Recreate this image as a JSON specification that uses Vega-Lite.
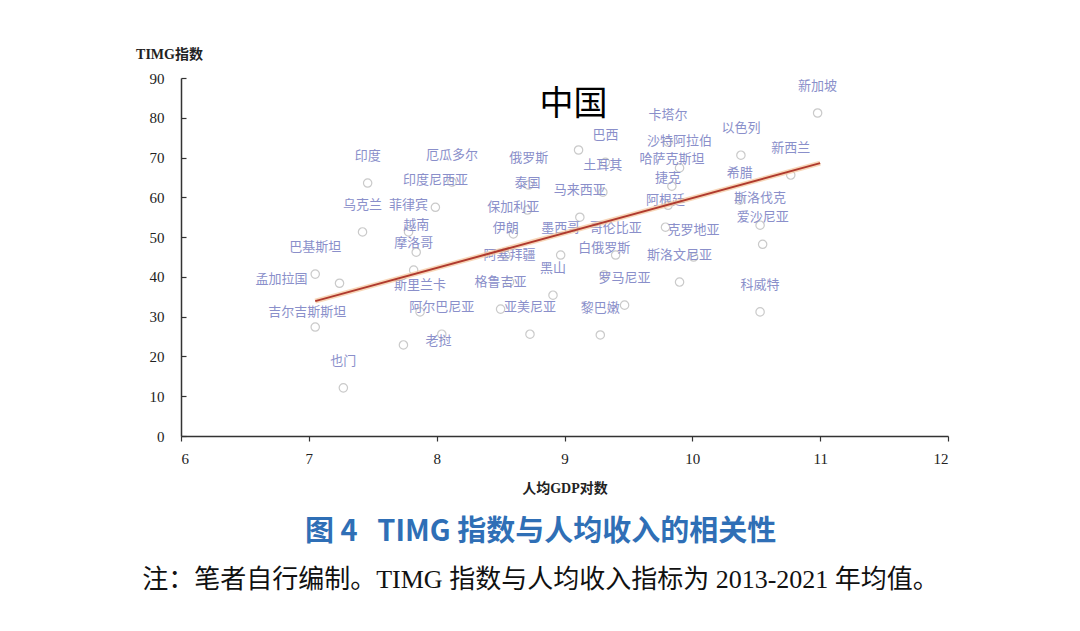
{
  "$schema": "https://vega.github.io/schema/vega-lite/v6.json",
  "autosize": {"type": "none"},
  "width": 767,
  "height": 358,
  "padding": {"left": 181, "top": 78, "right": 132, "bottom": 195},
  "background": "white",
  "config": {
    "view": {"stroke": null},
    "axis": {"grid": false, "domainColor": "#333", "domainWidth": 1.5, "tickColor": "#333", "tickWidth": 1.2, "labelFont": "Liberation Serif", "labelFontSize": 15, "labelColor": "#222", "titleFont": "Liberation Serif, Noto Sans CJK SC", "titleFontSize": 14, "titleColor": "#222", "titleFontWeight": "bold"}
  },
  "title": {
    "text": "图 4\u00a0\u00a0\u00a0TIMG 指数与人均收入的相关性",
    "subtitle": "注：笔者自行编制。TIMG 指数与人均收入指标为 2013-2021 年均值。",
    "orient": "bottom",
    "anchor": "middle",
    "frame": "group",
    "dx": -24,
    "offset": 23,
    "font": "Noto Sans CJK SC",
    "fontSize": 29,
    "fontWeight": "bold",
    "color": "#2f6fb6",
    "subtitleFont": "Liberation Serif, Noto Sans CJK SC",
    "subtitleFontSize": 26,
    "subtitleColor": "#111",
    "subtitlePadding": 20
  },
  "data": {"values": [
    {"country": "新加坡", "gdp": 10.98, "timg": 81.2},
    {"country": "卡塔尔", "gdp": 9.81, "timg": 73.9},
    {"country": "以色列", "gdp": 10.38, "timg": 70.6},
    {"country": "巴西", "gdp": 9.32, "timg": 68.8},
    {"country": "沙特阿拉伯", "gdp": 9.9, "timg": 67.4},
    {"country": "新西兰", "gdp": 10.77, "timg": 65.6},
    {"country": "印度", "gdp": 7.46, "timg": 63.6},
    {"country": "厄瓜多尔", "gdp": 8.12, "timg": 63.8},
    {"country": "俄罗斯", "gdp": 8.72, "timg": 63.1},
    {"country": "土耳其", "gdp": 9.3, "timg": 61.3},
    {"country": "哈萨克斯坦", "gdp": 9.84, "timg": 62.8},
    {"country": "捷克", "gdp": 9.81, "timg": 58.0},
    {"country": "希腊", "gdp": 10.37, "timg": 59.3},
    {"country": "印度尼西亚", "gdp": 7.99, "timg": 57.5},
    {"country": "泰国", "gdp": 8.71, "timg": 56.8},
    {"country": "马来西亚", "gdp": 9.12, "timg": 55.0},
    {"country": "阿根廷", "gdp": 9.79, "timg": 52.5},
    {"country": "斯洛伐克", "gdp": 10.53, "timg": 53.0},
    {"country": "乌克兰", "gdp": 7.42, "timg": 51.3},
    {"country": "菲律宾", "gdp": 7.78, "timg": 51.3},
    {"country": "保加利亚", "gdp": 8.6, "timg": 50.8},
    {"country": "爱沙尼亚", "gdp": 10.55, "timg": 48.2},
    {"country": "越南", "gdp": 7.84, "timg": 46.2},
    {"country": "伊朗", "gdp": 8.54, "timg": 45.5},
    {"country": "墨西哥", "gdp": 8.97, "timg": 45.5},
    {"country": "哥伦比亚", "gdp": 9.4, "timg": 45.5},
    {"country": "克罗地亚", "gdp": 10.01, "timg": 45.0},
    {"country": "摩洛哥", "gdp": 7.82, "timg": 41.7},
    {"country": "巴基斯坦", "gdp": 7.05, "timg": 40.7},
    {"country": "阿塞拜疆", "gdp": 8.57, "timg": 38.7},
    {"country": "白俄罗斯", "gdp": 9.31, "timg": 40.5},
    {"country": "斯洛文尼亚", "gdp": 9.9, "timg": 38.7},
    {"country": "孟加拉国", "gdp": 7.24, "timg": 38.4},
    {"country": "黑山", "gdp": 8.91, "timg": 35.4},
    {"country": "罗马尼亚", "gdp": 9.47, "timg": 32.9},
    {"country": "科威特", "gdp": 10.53, "timg": 31.2},
    {"country": "斯里兰卡", "gdp": 7.87, "timg": 31.2},
    {"country": "格鲁吉亚", "gdp": 8.5, "timg": 31.9},
    {"country": "吉尔吉斯斯坦", "gdp": 7.05, "timg": 27.4},
    {"country": "阿尔巴尼亚", "gdp": 8.04, "timg": 25.6},
    {"country": "亚美尼亚", "gdp": 8.73, "timg": 25.6},
    {"country": "黎巴嫩", "gdp": 9.28, "timg": 25.4},
    {"country": "老挝", "gdp": 7.74, "timg": 22.9},
    {"country": "也门", "gdp": 7.27, "timg": 12.1},
    {"country": "中国", "gdp": 9.11, "timg": 71.9}
  ]},
  "encoding": {
    "x": {"field": "gdp", "type": "quantitative", "scale": {"domain": [6, 12], "nice": false, "zero": false},
      "axis": {"title": "人均GDP对数", "values": [6, 7, 8, 9, 10, 11, 12], "tickSize": 5, "labelPadding": 10, "titleY": 52, "titleBaseline": "middle"}},
    "y": {"field": "timg", "type": "quantitative", "scale": {"domain": [0, 90], "nice": false},
      "axis": {"title": "TIMG指数", "values": [0, 10, 20, 30, 40, 50, 60, 70, 80, 90], "tickSize": -5, "labelPadding": 22, "titleAngle": 0, "titleX": -12, "titleY": -24, "titleAlign": "center", "titleBaseline": "middle"}}
  },
  "layer": [
    {
      "mark": {"type": "point", "shape": "circle", "filled": false, "stroke": "#bdbdbd", "strokeWidth": 1.2, "size": 70, "opacity": 0.8}
    },
    {
      "transform": [{"filter": "indexof(['孟加拉国','老挝','中国','吉尔吉斯斯坦'], datum.country) < 0"}],
      "mark": {"type": "text", "dy": -27, "font": "Noto Sans CJK SC", "fontSize": 13, "color": "#8a8fca"},
      "encoding": {"text": {"field": "country"}}
    },
    {
      "transform": [{"filter": "datum.country == '吉尔吉斯斯坦'"}],
      "mark": {"type": "text", "dy": -15, "dx": -8, "font": "Noto Sans CJK SC", "fontSize": 13, "color": "#8a8fca"},
      "encoding": {"text": {"field": "country"}}
    },
    {
      "transform": [{"filter": "datum.country == '孟加拉国'"}],
      "mark": {"type": "text", "align": "right", "dx": -32, "dy": -4, "font": "Noto Sans CJK SC", "fontSize": 13, "color": "#8a8fca"},
      "encoding": {"text": {"field": "country"}}
    },
    {
      "transform": [{"filter": "datum.country == '老挝'"}],
      "mark": {"type": "text", "align": "left", "dx": 22, "dy": -4, "font": "Noto Sans CJK SC", "fontSize": 13, "color": "#8a8fca"},
      "encoding": {"text": {"field": "country"}}
    },
    {
      "transform": [{"filter": "datum.country == '中国'"}],
      "mark": {"type": "text", "dy": -45, "dx": -5, "font": "Noto Sans CJK SC", "fontSize": 34, "color": "#000"},
      "encoding": {"text": {"field": "country"}}
    },
    {
      "data": {"values": [{"gdp": 7.05, "timg": 33.9}, {"gdp": 11.0, "timg": 68.6}]},
      "mark": {"type": "line", "color": "#f3c49a", "strokeWidth": 5, "opacity": 0.7}
    },
    {
      "data": {"values": [{"gdp": 7.05, "timg": 33.9}, {"gdp": 11.0, "timg": 68.6}]},
      "mark": {"type": "line", "color": "#b03a2e", "strokeWidth": 2}
    }
  ]
}
